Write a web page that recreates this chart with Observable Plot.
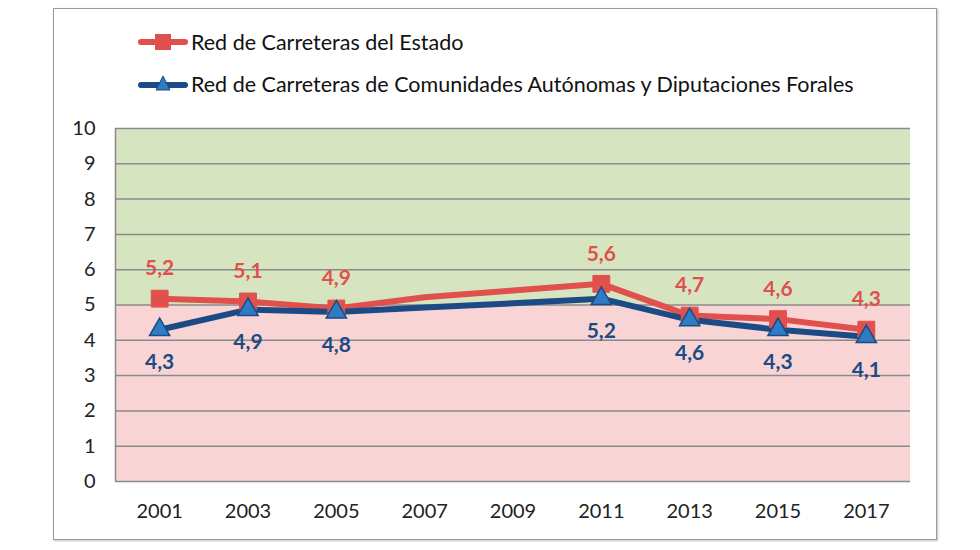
<!DOCTYPE html>
<html>
<head>
<meta charset="utf-8">
<script src="https://cdn.jsdelivr.net/npm/d3@7"></script>
<script src="https://cdn.jsdelivr.net/npm/@observablehq/plot@0.6"></script>
<style>
  html, body { margin: 0; padding: 0; background: #fff; }
  body { width: 980px; height: 550px; position: relative; overflow: hidden; font-family: Lato, "Noto Sans", sans-serif; }
  #frame { position: absolute; left: 53px; top: 8px; width: 882px; height: 530px; border: 1.5px solid #9a9a9a; box-shadow: 1px 1px 2px rgba(0,0,0,0.25); }
  #chart { position: absolute; left: 0; top: 0; }
  .legend { position: absolute; left: 138px; font-size: 21.5px; color: #111; display: flex; align-items: center; }
  .legend svg { margin-right: 3px; }
</style>
</head>
<body>
<div id="frame"></div>
<div id="chart"></div>
<div class="legend" style="top:28px;">
  <svg width="50" height="28"><line x1="3" y1="14" x2="47" y2="14" stroke="#e0504d" stroke-width="6" stroke-linecap="round"/><rect x="17" y="6" width="16" height="16" fill="#e0504d"/></svg>
  <span>Red de Carreteras del Estado</span>
</div>
<div class="legend" style="top:70px;">
  <svg width="50" height="28"><line x1="3" y1="15" x2="47" y2="15" stroke="#1b4a84" stroke-width="6" stroke-linecap="round"/><path d="M25,6 L32,20 L18,20 Z" fill="#2e7cc4" stroke="#1b4a84" stroke-width="1"/></svg>
  <span>Red de Carreteras de Comunidades Autónomas y Diputaciones Forales</span>
</div>
<script>
// ---- data ----
const years = [2001, 2003, 2005, 2007, 2009, 2011, 2013, 2015, 2017];
const estado = [5.18, 5.1, 4.9, 5.22, 5.41, 5.6, 4.7, 4.6, 4.3];
const autonomicas = [4.3, 4.87, 4.8, 4.93, 5.05, 5.18, 4.58, 4.3, 4.1];
const estadoLabels = ["5,2", "5,1", "4,9", null, null, "5,6", "4,7", "4,6", "4,3"];
const autonomicasLabels = ["4,3", "4,9", "4,8", null, null, "5,2", "4,6", "4,3", "4,1"];
const yTicks = [0, 1, 2, 3, 4, 5, 6, 7, 8, 9, 10];
const bands = [{lo: 0, hi: 5, zone: "bajo"}, {lo: 5, hi: 10, zone: "alto"}];

const xDomain = [2000, 2018];
const red = "#e0504d", blueLine = "#1b4a84", blueFill = "#2e7cc4";

const rows = (vals, labs) => years.map((y, i) => ({year: y, value: vals[i], label: labs[i]}));
const est = rows(estado, estadoLabels);
const aut = rows(autonomicas, autonomicasLabels);

const chart = Plot.plot({
  width: 980,
  height: 550,
  marginLeft: 115,
  marginRight: 70,
  marginTop: 128,
  marginBottom: 69,
  style: {fontFamily: "Lato, 'Noto Sans', sans-serif", fontSize: "20px", color: "#222", background: "transparent"},
  x: {domain: xDomain, ticks: years, tickFormat: d => String(d), tickSize: 0, tickPadding: 22, label: null},
  y: {domain: [0, 10], ticks: yTicks, tickSize: 0, tickPadding: 20, label: null},
  color: {domain: ["bajo", "alto"], range: ["#f8d5d4", "#d6e5c0"]},
  marks: [
    Plot.rect(bands, {x1: xDomain[0], x2: xDomain[1], y1: "lo", y2: "hi", fill: "zone"}),
    Plot.ruleY(yTicks, {stroke: "#8a8a8a", strokeWidth: 1.5}),
    Plot.ruleX([xDomain[0]], {y1: 0, y2: 10, stroke: "#8a8a8a", strokeWidth: 1.5}),
    Plot.line(est, {x: "year", y: "value", stroke: red, strokeWidth: 6}),
    Plot.line(aut, {x: "year", y: "value", stroke: blueLine, strokeWidth: 6}),
    Plot.dot(est.filter(d => d.label), {x: "year", y: "value", symbol: "square", r: 9.5, fill: red, stroke: red, strokeWidth: 1}),
    Plot.dot(aut.filter(d => d.label), {x: "year", y: "value", symbol: "triangle", r: 7.5, fill: blueFill, stroke: blueLine, strokeWidth: 1.5}),
    Plot.text(est.filter(d => d.label), {x: "year", y: "value", text: "label", dy: -30, fill: red, fontWeight: "bold", fontSize: 21}),
    Plot.text(aut.filter(d => d.label), {x: "year", y: "value", text: "label", dy: 33, fill: blueLine, fontWeight: "bold", fontSize: 21})
  ]
});
document.getElementById("chart").appendChild(chart);
</script>
</body>
</html>
